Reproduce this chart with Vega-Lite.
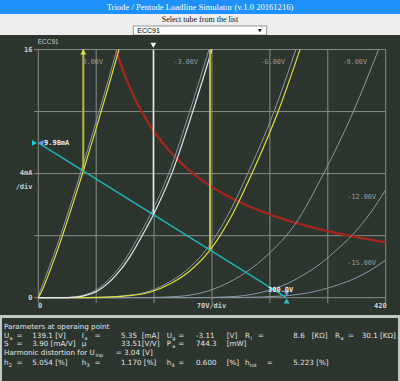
{
"$schema": "https://vega.github.io/schema/vega-lite/v6.json",
"background": "#c4c8c4",
"padding": 0,
"spacing": 0,
"center": true,
"bounds": "flush",
"config": {"view": {"stroke": null}},
"datasets": {
"tube": [
{"Ug":"0","V":0,"I":0},{"Ug":"0","V":2.5,"I":0.45},{"Ug":"0","V":7.5,"I":1.165},{"Ug":"0","V":17.5,"I":2.585},{"Ug":"0","V":27.5,"I":4.12},{"Ug":"0","V":37.5,"I":5.74},{"Ug":"0","V":51.9,"I":8.17},{"Ug":"0","V":67.5,"I":10.92},{"Ug":"0","V":82.5,"I":13.65},{"Ug":"0","V":95.1,"I":16},
{"Ug":"-3","V":0,"I":0},{"Ug":"-3","V":31.3,"I":0.01},{"Ug":"-3","V":41.3,"I":0.04},{"Ug":"-3","V":51.3,"I":0.12},{"Ug":"-3","V":68.3,"I":0.45},{"Ug":"-3","V":91.1,"I":1.5},{"Ug":"-3","V":107.2,"I":2.65},{"Ug":"-3","V":121.3,"I":3.95},{"Ug":"-3","V":135.4,"I":5.35},{"Ug":"-3","V":157.6,"I":8},{"Ug":"-3","V":183,"I":12},{"Ug":"-3","V":206.3,"I":16},
{"Ug":"-6","V":0,"I":0},{"Ug":"-6","V":55,"I":0.01},{"Ug":"-6","V":85,"I":0.05},{"Ug":"-6","V":105,"I":0.13},{"Ug":"-6","V":130,"I":0.35},{"Ug":"-6","V":154,"I":0.88},{"Ug":"-6","V":178.4,"I":1.74},{"Ug":"-6","V":202.6,"I":3.07},{"Ug":"-6","V":228,"I":5.2},{"Ug":"-6","V":253,"I":7.97},{"Ug":"-6","V":285,"I":12},{"Ug":"-6","V":311.4,"I":16},
{"Ug":"-9","V":0,"I":0},{"Ug":"-9","V":125,"I":0.01},{"Ug":"-9","V":158,"I":0.05},{"Ug":"-9","V":178,"I":0.13},{"Ug":"-9","V":200,"I":0.35},{"Ug":"-9","V":225,"I":0.85},{"Ug":"-9","V":250,"I":1.6},{"Ug":"-9","V":280,"I":2.9},{"Ug":"-9","V":310,"I":4.7},{"Ug":"-9","V":344.6,"I":7.97},{"Ug":"-9","V":380.9,"I":12},{"Ug":"-9","V":411.4,"I":16},
{"Ug":"-12","V":0,"I":0},{"Ug":"-12","V":195,"I":0.01},{"Ug":"-12","V":228,"I":0.05},{"Ug":"-12","V":248,"I":0.13},{"Ug":"-12","V":270,"I":0.35},{"Ug":"-12","V":300,"I":0.88},{"Ug":"-12","V":320,"I":1.45},{"Ug":"-12","V":340.6,"I":2.17},{"Ug":"-12","V":360,"I":3.05},{"Ug":"-12","V":378.9,"I":4.0},{"Ug":"-12","V":400,"I":5.35},{"Ug":"-12","V":420,"I":6.95},
{"Ug":"-15","V":0,"I":0},{"Ug":"-15","V":230,"I":0.01},{"Ug":"-15","V":270,"I":0.05},{"Ug":"-15","V":304,"I":0.15},{"Ug":"-15","V":330,"I":0.35},{"Ug":"-15","V":355,"I":0.7},{"Ug":"-15","V":380.9,"I":1.2},{"Ug":"-15","V":400,"I":1.72},{"Ug":"-15","V":420,"I":2.42}
],
"swing": [
{"Ug":"-0.07","V":0,"I":0},{"Ug":"-0.07","V":5,"I":0.52},{"Ug":"-0.07","V":10,"I":1.165},{"Ug":"-0.07","V":20,"I":2.585},{"Ug":"-0.07","V":30,"I":4.12},{"Ug":"-0.07","V":40,"I":5.74},{"Ug":"-0.07","V":54.4,"I":8.17},{"Ug":"-0.07","V":70,"I":10.92},{"Ug":"-0.07","V":85,"I":13.65},{"Ug":"-0.07","V":97.6,"I":16},
{"Ug":"-3.11","V":0,"I":0},{"Ug":"-3.11","V":35,"I":0.01},{"Ug":"-3.11","V":45,"I":0.04},{"Ug":"-3.11","V":55,"I":0.12},{"Ug":"-3.11","V":72,"I":0.45},{"Ug":"-3.11","V":94.8,"I":1.5},{"Ug":"-3.11","V":110.9,"I":2.65},{"Ug":"-3.11","V":125,"I":3.95},{"Ug":"-3.11","V":139.1,"I":5.35},{"Ug":"-3.11","V":161.3,"I":8},{"Ug":"-3.11","V":186.7,"I":12},{"Ug":"-3.11","V":210,"I":16},
{"Ug":"-6.15","V":0,"I":0},{"Ug":"-6.15","V":60,"I":0.01},{"Ug":"-6.15","V":90,"I":0.05},{"Ug":"-6.15","V":110,"I":0.13},{"Ug":"-6.15","V":135,"I":0.35},{"Ug":"-6.15","V":159,"I":0.88},{"Ug":"-6.15","V":183.4,"I":1.74},{"Ug":"-6.15","V":207.6,"I":3.07},{"Ug":"-6.15","V":233,"I":5.2},{"Ug":"-6.15","V":258,"I":7.97},{"Ug":"-6.15","V":290,"I":12},{"Ug":"-6.15","V":316.4,"I":16}
],
"pmax": [
{"V":93.75,"I":16},{"V":100,"I":15},{"V":110,"I":13.64},{"V":120,"I":12.5},{"V":135,"I":11.11},{"V":150,"I":10},{"V":170,"I":8.82},{"V":190,"I":7.89},{"V":215,"I":6.98},{"V":240,"I":6.25},{"V":270,"I":5.56},{"V":300,"I":5},{"V":330,"I":4.55},{"V":360,"I":4.17},{"V":390,"I":3.85},{"V":420,"I":3.57}
],
"params": [
{"line":1,"col":0,"t":"Parameters at operaing point"},
{"line":2,"col":0,"t":"U","sub":"a"},{"line":2,"col":1,"t":"="},{"line":2,"col":2,"t":"139.1 [V]"},
{"line":2,"col":3,"t":"I","sub":"a"},{"line":2,"col":4,"t":"="},{"line":2,"col":5,"t":"5.35"},{"line":2,"col":6,"t":"[mA]"},
{"line":2,"col":7,"t":"U","sub":"g"},{"line":2,"col":8,"t":"="},{"line":2,"col":9,"t":"-3.11"},{"line":2,"col":10,"t":"[V]"},
{"line":2,"col":11,"t":"R","sub":"i"},{"line":2,"col":12,"t":"="},{"line":2,"col":13,"t":"8.6"},{"line":2,"col":14,"t":"[KΩ]"},
{"line":2,"col":15,"t":"R","sub":"a"},{"line":2,"col":16,"t":"="},{"line":2,"col":17,"t":"30.1 [KΩ]"},
{"line":3,"col":0,"t":"S"},{"line":3,"col":1,"t":"="},{"line":3,"col":2,"t":"3.90 [mA/V]"},
{"line":3,"col":3,"t":"μ"},{"line":3,"col":5,"t":"33.51"},{"line":3,"col":6,"t":"[V/V]"},
{"line":3,"col":7,"t":"P","sub":"a"},{"line":3,"col":8,"t":"="},{"line":3,"col":9,"t":"744.3"},{"line":3,"col":10,"t":"[mW]"},
{"line":4,"col":0,"t":"Harmonic distortion for U","sub":"inp"},{"line":4,"col":4.8,"t":"= 3.04 [V]"},
{"line":5,"col":0,"t":"h","sub":"2"},{"line":5,"col":1,"t":"="},{"line":5,"col":2,"t":"5.054 [%]"},
{"line":5,"col":3,"t":"h","sub":"3"},{"line":5,"col":4,"t":"="},{"line":5,"col":5,"t":"1.170 [%]"},
{"line":5,"col":7,"t":"h","sub":"4"},{"line":5,"col":8,"t":"="},{"line":5,"col":9,"t":"0.600"},{"line":5,"col":10,"t":"[%]"},
{"line":5,"col":11,"t":"h","sub":"tot"},{"line":5,"col":12.5,"t":"="},{"line":5,"col":13,"t":"5.223 [%]"}
]
},
"vconcat": [
{
"width": 400, "height": 14,
"view": {"fill": "#1e90ff", "stroke": null},
"data": {"values": [{"t": "Triode / Pentode Loadline Simulator (v.1.0 20161216)"}]},
"mark": {"type": "text", "font": "Liberation Serif", "fontSize": 8.6, "color": "#ffffff", "baseline": "middle"},
"encoding": {"text": {"field": "t"}}
},
{
"width": 400, "height": 21,
"view": {"fill": "#eeeeee", "stroke": null},
"data": {"values": [{"tube": "ECC91", "prompt": "Select tube from the list"}]},
"layer": [
{"mark": {"type": "text", "font": "Liberation Serif", "fontSize": 8, "color": "#111111", "baseline": "middle", "dy": -4.5}, "encoding": {"text": {"field": "prompt"}}},
{"mark": {"type": "rect", "fill": "#ffffff", "stroke": "#7a7a7a", "strokeWidth": 0.8},
 "encoding": {
  "x": {"field": "tube", "type": "nominal", "scale": {"paddingInner": 0, "paddingOuter": 1.722}, "axis": null},
  "y": {"field": "tube", "type": "nominal", "scale": {"paddingInner": 0, "paddingOuter": 0.6667, "align": 1}, "axis": null}}},
{"mark": {"type": "text", "align": "left", "baseline": "middle", "dx": 4, "font": "Liberation Sans", "fontSize": 7, "color": "#000000"},
 "encoding": {"x": {"field": "tube", "type": "nominal", "bandPosition": 0}, "y": {"field": "tube", "type": "nominal"}, "text": {"field": "tube"}}},
{"mark": {"type": "text", "align": "center", "baseline": "middle", "dx": -7, "font": "DejaVu Sans", "fontSize": 4.5, "color": "#000000", "text": "▼"},
 "encoding": {"x": {"field": "tube", "type": "nominal", "bandPosition": 1}, "y": {"field": "tube", "type": "nominal"}}}
]
},
{
"width": 400, "height": 280,
"view": {"fill": "#2d352f", "stroke": null},
"encoding": {
 "x": {"field": "V", "type": "quantitative", "scale": {"domain": [-46.31, 437.31], "nice": false, "zero": false}, "axis": null},
 "y": {"field": "I", "type": "quantitative", "scale": {"domain": [-1.1154, 16.937], "nice": false, "zero": false}, "axis": null}
},
"layer": [
{"data": {"values": [{"V":0,"I":-0.35,"I2":16},{"V":70,"I":-0.35,"I2":16},{"V":140,"I":-0.35,"I2":16},{"V":210,"I":-0.35,"I2":16},{"V":280,"I":-0.35,"I2":16},{"V":350,"I":-0.35,"I2":16},{"V":420,"I":-0.35,"I2":16}]},
 "mark": {"type": "rule", "color": "#878d87", "strokeWidth": 1},
 "encoding": {"y2": {"field": "I2"}}},
{"data": {"values": [{"I":0,"V":-5,"V2":420},{"I":4,"V":-5,"V2":420},{"I":8,"V":-5,"V2":420},{"I":12,"V":-5,"V2":420},{"I":16,"V":-5,"V2":420}]},
 "mark": {"type": "rule", "color": "#878d87", "strokeWidth": 1},
 "encoding": {"x2": {"field": "V2"}}},
{"data": {"name": "pmax"},
 "mark": {"type": "line", "color": "#a3261f", "strokeWidth": 2.4, "interpolate": "monotone"}},
{"data": {"name": "tube"},
 "mark": {"type": "line", "color": "#8799a6", "strokeWidth": 1, "interpolate": "monotone"},
 "encoding": {"detail": {"field": "Ug"}}},
{"data": {"name": "swing"},
 "transform": [{"filter": "datum.Ug != '-3.11'"}],
 "mark": {"type": "line", "color": "#dede3c", "strokeWidth": 1.2, "interpolate": "monotone"},
 "encoding": {"detail": {"field": "Ug"}}},
{"data": {"name": "swing"},
 "transform": [{"filter": "datum.Ug == '-3.11'"}],
 "mark": {"type": "line", "color": "#e8e8e8", "strokeWidth": 1.2, "interpolate": "monotone"}},
{"data": {"values": [{"V":0,"I":9.98},{"V":300,"I":0}]},
 "mark": {"type": "line", "color": "#22b3b8", "strokeWidth": 1.5}},
{"data": {"values": [{"V":54.4,"I":8.17,"I2":16},{"V":207.6,"I":3.07,"I2":16}]},
 "mark": {"type": "rule", "color": "#b9b93a", "strokeWidth": 2},
 "encoding": {"y2": {"field": "I2"}}},
{"data": {"values": [{"V":139.1,"I":5.35,"I2":16}]},
 "mark": {"type": "rule", "color": "#e6e6e6", "strokeWidth": 1.4},
 "encoding": {"y2": {"field": "I2"}}},
{"data": {"values": [
  {"marker":"swing","V":54.4,"I":15.84},{"marker":"op","V":139.1,"I":16.28},
  {"marker":"ia0","V":-4.6,"I":9.98},{"marker":"ia0set","V":3.0,"I":9.98},
  {"marker":"ua0set","V":300.3,"I":0.27},{"marker":"ua0","V":300.3,"I":-0.21}]},
 "mark": {"type": "point", "filled": true, "opacity": 1, "size": 34, "strokeWidth": 0},
 "encoding": {
  "shape": {"field": "marker", "type": "nominal", "legend": null, "scale": {"domain": ["swing","op","ia0","ia0set","ua0set","ua0"], "range": ["triangle-up","triangle-down","triangle-right","triangle-left","triangle-down","triangle-up"]}},
  "color": {"field": "marker", "type": "nominal", "legend": null, "scale": {"domain": ["swing","op","ia0","ia0set","ua0set","ua0"], "range": ["#e4e43c","#f4f4f4","#26c6cc","#8090e8","#8090e8","#26c6cc"]}}}},
{"data": {"values": [
  {"t":"0.00V","V":78.2,"I":15.18},{"t":"-3.00V","V":193.1,"I":15.18},{"t":"-6.00V","V":298.3,"I":15.18},
  {"t":"-9.00V","V":397.4,"I":15.18},{"t":"-12.00V","V":408.3,"I":6.51},{"t":"-15.00V","V":408.3,"I":2.22}]},
 "mark": {"type": "text", "align": "right", "baseline": "middle", "font": "DejaVu Sans Mono", "fontSize": 6.8, "color": "#939e9e"},
 "encoding": {"text": {"field": "t"}}},
{"data": {"values": [{"t":"9.98mA","V":6.9,"I":9.98},{"t":"300.0V","V":277.7,"I":0.5}]},
 "mark": {"type": "text", "align": "left", "baseline": "middle", "font": "DejaVu Sans Mono", "fontSize": 7, "fontWeight": "bold", "color": "#eeeeee"},
 "encoding": {"text": {"field": "t"}}},
{"data": {"values": [{"t":"16","V":-7,"I":15.98},{"t":"4mA","V":-7,"I":8.04},{"t":"/div","V":-7,"I":7.16},{"t":"0","V":-7,"I":0}]},
 "mark": {"type": "text", "align": "right", "baseline": "middle", "font": "DejaVu Sans Mono", "fontSize": 7, "fontWeight": "bold", "color": "#cfcfcf"},
 "encoding": {"text": {"field": "t"}}},
{"data": {"values": [{"t":"0","V":2.05,"I":-0.567},{"t":"70V/div","V":209.4,"I":-0.567},{"t":"420","V":413.5,"I":-0.567}]},
 "mark": {"type": "text", "align": "center", "baseline": "middle", "font": "DejaVu Sans Mono", "fontSize": 7, "fontWeight": "bold", "color": "#cfcfcf"},
 "encoding": {"text": {"field": "t"}}},
{"data": {"values": [{"t":"ECC91","V":-0.7,"I":16.46}]},
 "mark": {"type": "text", "align": "left", "baseline": "middle", "font": "Liberation Sans", "fontSize": 6.5, "color": "#c8c8c8"},
 "encoding": {"text": {"field": "t"}}}
]
},
{
"width": 400, "height": 2.5,
"view": {"fill": "#c4c8c4", "stroke": null},
"data": {"values": []},
"mark": "point"
},
{
"width": 396, "height": 63.5,
"view": {"fill": "#2d352f", "stroke": null},
"data": {"name": "params"},
"encoding": {
 "x": {"field": "col", "type": "quantitative", "scale": {"domain": [0,1,2,3,4,5,6,7,8,9,10,11,12,12.5,13,14,15,16,17], "range": [2,14.5,30.3,79.7,92.5,119,139.7,164.7,176.3,194,224.7,243,256,264.7,291.3,309.7,333,346,359.7]}, "axis": null},
 "y": {"field": "line", "type": "quantitative", "scale": {"domain": [1,2,3,4,5], "range": [8.5,17.5,26,35,45]}, "axis": null}
},
"layer": [
{"mark": {"type": "text", "align": "left", "baseline": "middle", "font": "DejaVu Sans", "fontSize": 7.2, "color": "#e4e4e4"}, "encoding": {"text": {"field": "t"}}},
{"transform": [{"filter": "datum.sub && datum.t == 'I'"}],
 "mark": {"type": "text", "align": "left", "baseline": "middle", "font": "DejaVu Sans", "fontSize": 5, "dx": 2.9, "dy": 2, "color": "#e4e4e4"}, "encoding": {"text": {"field": "sub"}}},
{"transform": [{"filter": "datum.sub && (datum.t == 'U' || datum.t == 'R' || datum.t == 'P')"}],
 "mark": {"type": "text", "align": "left", "baseline": "middle", "font": "DejaVu Sans", "fontSize": 5, "dx": 5.5, "dy": 2, "color": "#e4e4e4"}, "encoding": {"text": {"field": "sub"}}},
{"transform": [{"filter": "datum.sub && datum.t == 'h'"}],
 "mark": {"type": "text", "align": "left", "baseline": "middle", "font": "DejaVu Sans", "fontSize": 5, "dx": 4.8, "dy": 2, "color": "#e4e4e4"}, "encoding": {"text": {"field": "sub"}}},
{"transform": [{"filter": "datum.sub && datum.line == 4"}],
 "mark": {"type": "text", "align": "left", "baseline": "middle", "font": "DejaVu Sans", "fontSize": 5, "dx": 91.5, "dy": 2, "color": "#e4e4e4"}, "encoding": {"text": {"field": "sub"}}}
]
}
]
}
